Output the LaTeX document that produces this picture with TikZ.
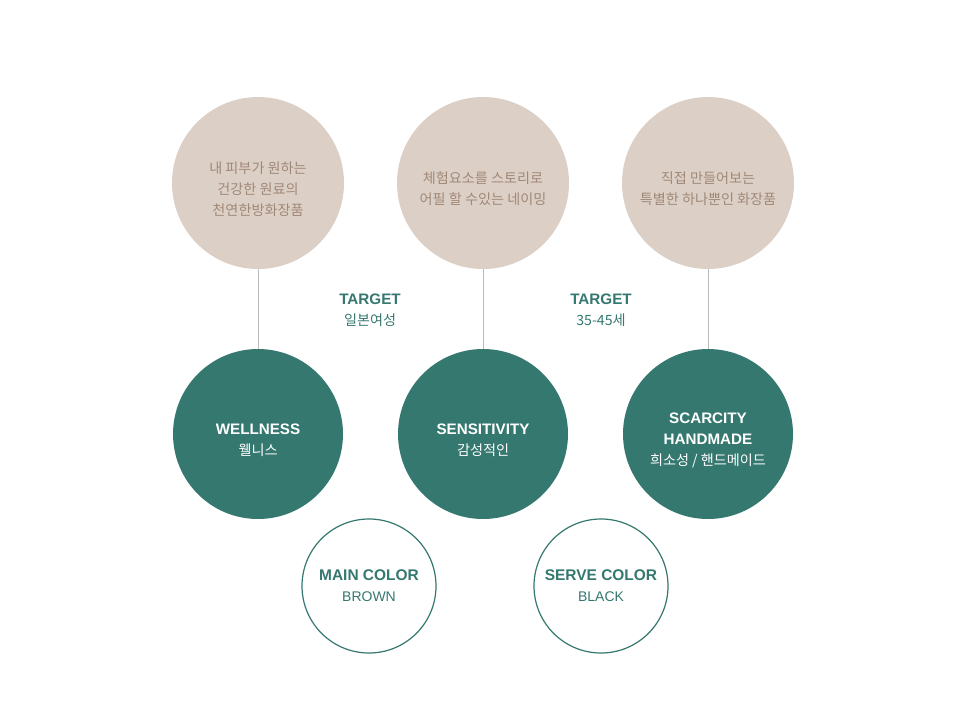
\documentclass[tikz,border=0pt]{standalone}
\usepackage{fontspec}
\setmainfont{Liberation Sans}
\newfontfamily\kr{Noto Sans CJK KR}
\definecolor{beige}{HTML}{DCD0C6}
\definecolor{beigetext}{HTML}{A08878}
\definecolor{teal}{HTML}{35786F}
\definecolor{stem}{HTML}{BBBBBB}
\newcommand\krtext[1]{{\mdseries\kr\fontsize{10.6}{15.75}\selectfont #1}}
\begin{document}
\begin{tikzpicture}[x=0.75pt,y=-0.75pt,
	idea/.style={circle,fill=beige,minimum size=129pt,inner sep=0pt},
	ideatext/.style={align=center,text=beigetext,yshift=-4.5pt,font=\kr\fontsize{10.6}{15.75}\selectfont},
	value/.style={circle,fill=teal,minimum size=127.5pt,inner sep=0pt},
	valuetext/.style={align=center,text=white,yshift=-4.5pt,font=\fontsize{11.4}{15.75}\selectfont\bfseries},
	swatch/.style={circle,draw=teal,line width=0.9pt,fill=white,minimum size=100.5pt,inner sep=0pt,align=center,text=teal,font=\fontsize{10.5}{15.75}\selectfont},
	target/.style={align=center,text=teal,font=\fontsize{11.4}{15.75}\selectfont}]
	\useasboundingbox (0,0) rectangle (966,725);
	\node[idea,label={[ideatext]center:내 피부가 원하는\\건강한 원료의\\천연한방화장품}] (i1) at (258,183) {};
	\node[idea,label={[ideatext]center:체험요소를 스토리로\\어필 할 수있는 네이밍}] (i2) at (483,183) {};
	\node[idea,label={[ideatext]center:직접 만들어보는\\특별한 하나뿐인 화장품}] (i3) at (708,183) {};
	\node[value,label={[valuetext]center:WELLNESS\\\krtext{웰니스}}] (v1) at (258,434) {};
	\node[value,label={[valuetext]center:SENSITIVITY\\\krtext{감성적인}}] (v2) at (483,434) {};
	\node[value,label={[valuetext]center:SCARCITY\\HANDMADE\\\krtext{희소성 / 핸드메이드}}] (v3) at (708,434) {};
	\node[swatch] (c1) at (369,586) {{\fontsize{11.6}{15.75}\selectfont\bfseries MAIN COLOR}\\BROWN};
	\node[swatch] (c2) at (601,586) {{\fontsize{11.6}{15.75}\selectfont\bfseries SERVE COLOR}\\BLACK};
	\node[target] (t1) at (370,310) {\textbf{TARGET}\\\krtext{일본여성}};
	\node[target] (t2) at (601,310) {\textbf{TARGET}\\\krtext{35-45세}};
	\draw[stem] (i1)--(v1);
	\draw[stem] (i2)--(v2);
	\draw[stem] (i3)--(v3);
\end{tikzpicture}
\end{document}
